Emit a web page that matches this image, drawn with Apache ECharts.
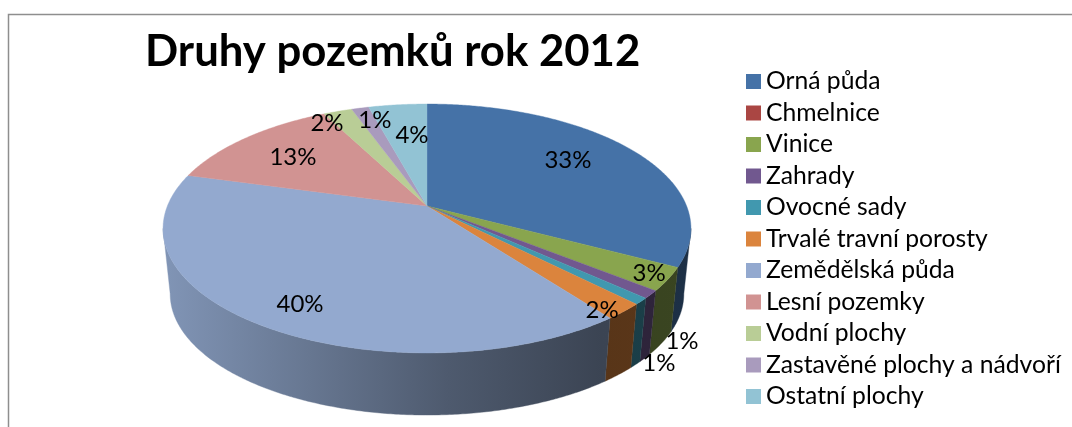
<!DOCTYPE html>
<html>
<head>
<meta charset="utf-8">
<style>html,body{margin:0;padding:0;background:#fff}#c{width:1072px;height:427px}</style>
<script src="https://cdn.jsdelivr.net/npm/echarts@6/dist/echarts.min.js"></script>
</head>
<body>
<div id="c"></div>
<script>
const categories = ['Orná půda','Chmelnice','Vinice','Zahrady','Ovocné sady','Trvalé travní porosty','Zemědělská půda','Lesní pozemky','Vodní plochy','Zastavěné plochy a nádvoří','Ostatní plochy'];
const values = [32.7,0,3.0,1.0,0.85,2.1,39.55,13.1,2.1,1.25,4.25];
const percentLabels = ['33%','','3%','1%','1%','2%','40%','13%','2%','1%','4%'];
const colors = ['#4572A7','#AA4643','#89A54E','#71588F','#4198AF','#DB843D','#93A9CF','#D19392','#B9CD96','#A99BBD','#92C3D4'];
// label placement in pie polar terms: radius fraction, angle clockwise from top (degrees)
const labelRadius = [0.713,0,0.927,1.24,1.279,0.948,0.828,0.709,0.902,0.852,0.663];
const labelAngle = [54.9,0,123,138.8,145.6,142,211,308.2,330.8,344.3,354.4];

const P = 0.1807;
const TOP = {cx:427, cy:206, R:259.6, k:120.4};
const BOT = {cx:427, cy:272, R:252.6, k:117.2};
const VIS_A = 100.4, VIS_B = 259.6;
const total = values.reduce((a,b)=>a+b,0);

function project(face, r, deg){
  const t = deg*Math.PI/180;
  const u = r*Math.sin(t), v = -r*Math.cos(t);
  const d = 1 - P*v;
  return [face.cx + face.R*u/d, face.cy + face.k*v/d];
}
function arc(face, a, b){
  const pts = [];
  const n = Math.max(2, Math.ceil((b-a)/0.5));
  for(let i=0;i<=n;i++) pts.push(project(face,1,a+(b-a)*i/n));
  return pts;
}
function shade(hex,f){
  const n = parseInt(hex.slice(1),16);
  const c = [n>>16,(n>>8)&255,n&255].map(x=>Math.round(x*f));
  return 'rgb('+c.join(',')+')';
}
function startAngle(i){
  let s=0; for(let j=0;j<i;j++) s+=values[j];
  return s/total*360;
}
function makeSlice(i){
  return function(params, api){
    const val = api.value(0);
    const children = [];
    if(val>0){
      const a = startAngle(i), b = a + val/total*360;
      const wa = Math.max(a,VIS_A), wb = Math.min(b,VIS_B);
      if(wb>wa){
        const pts = arc(TOP,wa,wb).concat(arc(BOT,wa,wb).reverse());
        const grad = new echarts.graphic.LinearGradient(163,0,691,0,[
          {offset:0,color:shade(colors[i],0.88)},
          {offset:0.54,color:shade(colors[i],0.53)},
          {offset:0.83,color:shade(colors[i],0.40)},
          {offset:1,color:shade(colors[i],0.42)}
        ],true);
        children.push({type:'polygon',shape:{points:pts},style:{fill:grad,stroke:grad,lineWidth:0.4},z2:1});
      }
      const topPts = [[TOP.cx,TOP.cy]].concat(arc(TOP,a,b));
      children.push({type:'polygon',shape:{points:topPts},style:{fill:colors[i],stroke:colors[i],lineWidth:0.4},z2:2});
      if(percentLabels[i]){
        const p = project(TOP,labelRadius[i],labelAngle[i]);
        children.push({type:'text',z2:50,style:{text:percentLabels[i],x:p[0],y:p[1],align:'center',verticalAlign:'middle',fill:'#000',font:'24px Lato'}});
      }
    }
    return {type:'group',children:children};
  };
}
const chart = echarts.init(document.getElementById('c'),null,{renderer:'canvas'});
chart.setOption({
  animation:false,
  backgroundColor:'#fff',
  title:{text:'Druhy pozemků rok 2012',left:145,top:30,padding:0,textStyle:{fontFamily:'Lato',fontWeight:'bold',fontSize:43.7,color:'#000'}},
  legend:{
    orient:'vertical',left:746,top:69,padding:0,itemWidth:15,itemHeight:15,itemGap:6.5,icon:'rect',selectedMode:false,
    data:categories,
    textStyle:{fontFamily:'Lato',fontSize:24.7,color:'#000',lineHeight:24}
  },
  graphic:[{type:'polyline',silent:true,shape:{points:[[8.5,427],[8.5,14.5],[1072,14.5]]},style:{fill:'none',stroke:'#8e8e8e',lineWidth:1.5}}],
  series:categories.map((name,i)=>({
    type:'custom',name:name,coordinateSystem:'none',silent:true,
    itemStyle:{color:colors[i]},
    renderItem:makeSlice(i),
    data:[[values[i]]]
  }))
});
</script>
</body>
</html>
